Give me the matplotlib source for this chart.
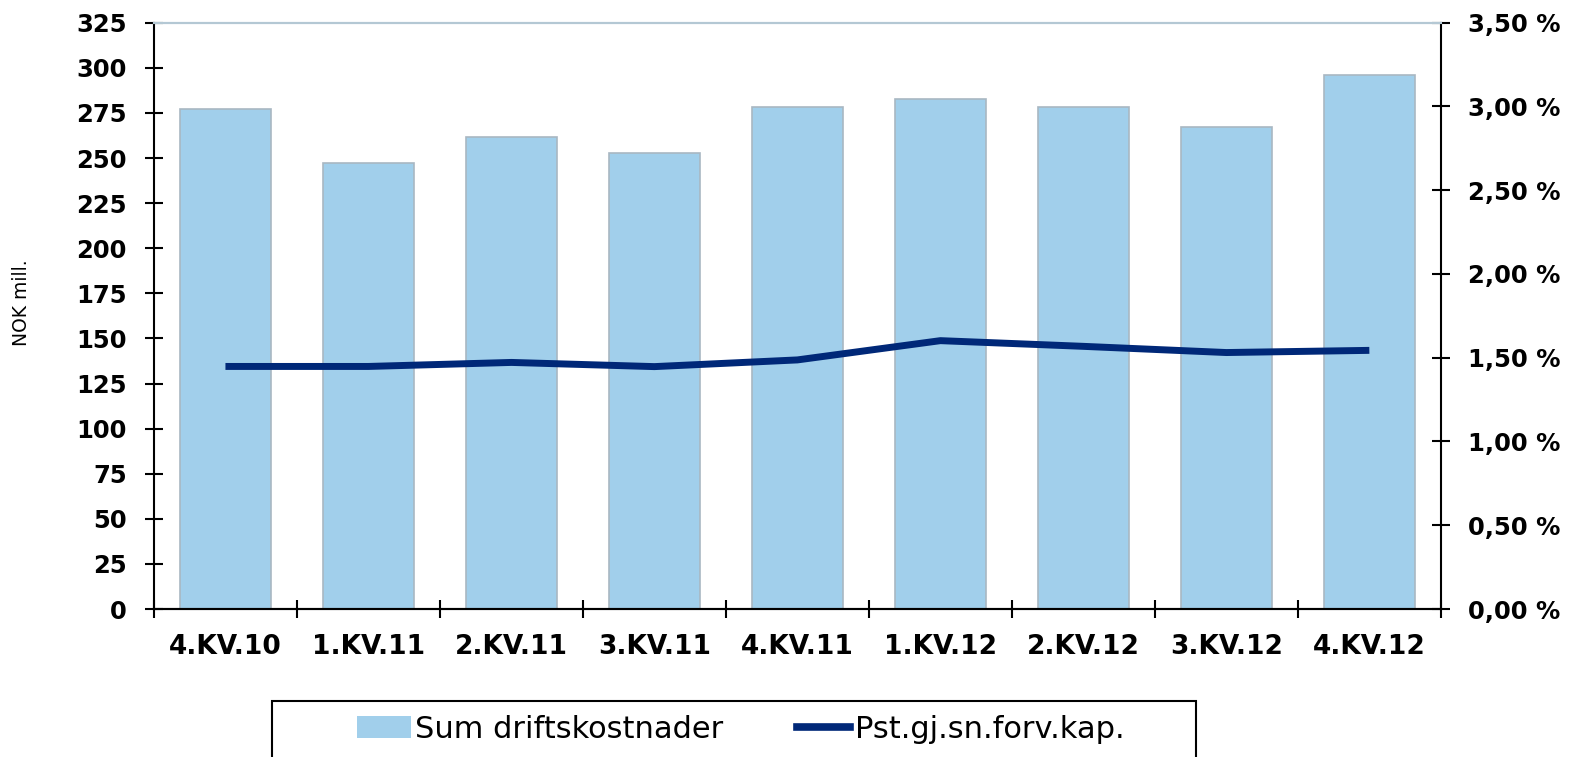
import numpy as np
import matplotlib
matplotlib.use("Agg")
import matplotlib.pyplot as plt
from matplotlib.patches import Rectangle, Patch
from matplotlib.lines import Line2D
from matplotlib.ticker import FixedLocator

quarters = ["4.KV.10", "1.KV.11", "2.KV.11", "3.KV.11", "4.KV.11",
            "1.KV.12", "2.KV.12", "3.KV.12", "4.KV.12"]
# Sum driftskostnader, NOK mill.
costs = [277, 247, 261.5, 253, 278, 282.5, 278, 267, 296]
# Pst.gj.sn.forv.kap., percent
pct = [1.448, 1.448, 1.472, 1.447, 1.487, 1.602, 1.568, 1.531, 1.544]

bar_color = "#a1cfeb"
line_color = "#002878"

fig = plt.figure(figsize=(15.79, 7.57), dpi=100)
ax = fig.add_axes([0.0975, 0.1955, 0.815, 0.7745])
ax2 = ax.twinx()

x = np.arange(len(quarters))
ax.bar(x, costs, width=0.64, color=bar_color, edgecolor="#a9b7c2", linewidth=1.2, zorder=2)
ax2.plot(x, pct, color=line_color, linewidth=5, solid_capstyle="butt", zorder=3)

ax.set_xlim(-0.5, len(quarters) - 0.5)
ax.set_ylim(0, 325)
ax2.set_ylim(0, 3.5)
ax.set_yticks(np.arange(0, 326, 25))
ax2.set_yticks(np.arange(0, 3.51, 0.5))
ax2.set_yticklabels([f"{v:.2f} %".replace(".", ",") for v in np.arange(0, 3.51, 0.5)])

ax.set_xticks(x)
ax.set_xticklabels(quarters)
ax.xaxis.set_minor_locator(FixedLocator(np.arange(-0.5, len(quarters), 1.0)))
ax.tick_params(axis="x", which="major", length=0, pad=18)
ax.tick_params(axis="x", which="minor", direction="inout", length=13, width=1.5)
ax.tick_params(axis="y", direction="inout", length=13, width=1.5, pad=13)
ax2.tick_params(axis="y", direction="inout", length=13, width=1.5, pad=13)

for lab in ax.get_yticklabels() + ax2.get_yticklabels():
    lab.set_fontsize(17.5)
    lab.set_fontweight("bold")
for lab in ax.get_xticklabels():
    lab.set_fontsize(19)
    lab.set_fontweight("bold")

for a in (ax, ax2):
    a.spines["left"].set_linewidth(1.5)
    a.spines["right"].set_linewidth(1.5)
    a.spines["bottom"].set_linewidth(1.5)
    a.spines["top"].set_color("#b4c8d4")
    a.spines["top"].set_linewidth(1.5)
ax.spines["right"].set_visible(False)
ax2.spines["left"].set_visible(False)

ax.set_ylabel("NOK mill.", fontsize=13.5)
ax.yaxis.set_label_coords(-0.0956, 0.522)

# legend with its own frame box, cut at the bottom of the figure
box = Rectangle((272 / 1579, -0.05), 924 / 1579, (757 - 701) / 757 + 0.05,
                transform=fig.transFigure, fill=False, edgecolor="black", linewidth=1.5)
fig.patches.append(box)
handles = [Patch(facecolor=bar_color, edgecolor="none"),
           Line2D([0], [0], color=line_color, linewidth=5.5)]
fig.legend(handles, ["Sum driftskostnader", "Pst.gj.sn.forv.kap."],
           loc="center", bbox_to_anchor=(741 / 1579, (757 - 729) / 757),
           ncol=2, frameon=False, fontsize=22, handlelength=1.75,
           handletextpad=0.15, columnspacing=2.4)

fig.savefig("out.png", dpi=100)
